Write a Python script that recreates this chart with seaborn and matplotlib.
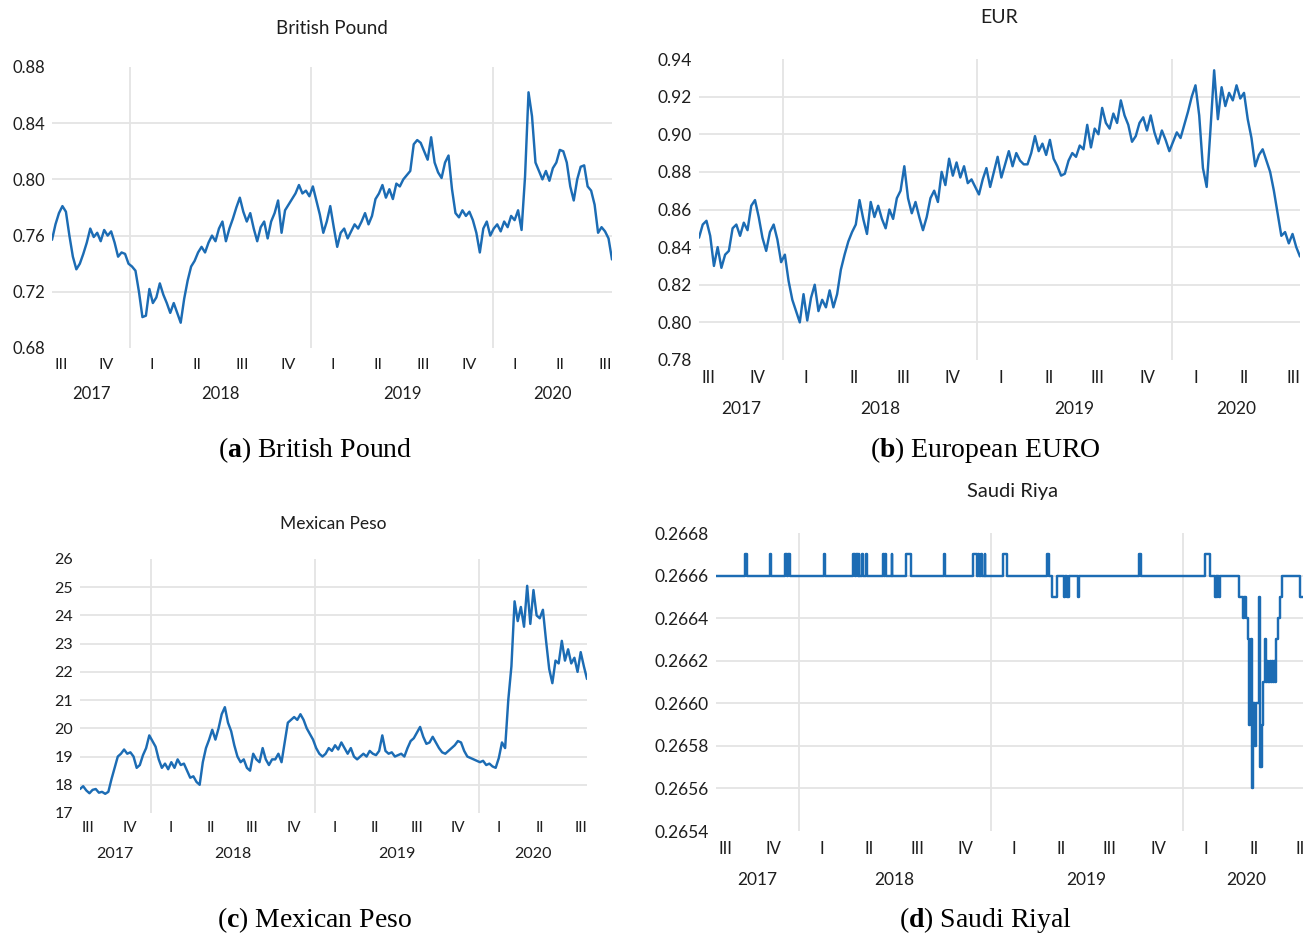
import pandas as pd
import matplotlib
matplotlib.use("Agg")
import matplotlib.pyplot as plt
import matplotlib.transforms as mtransforms
import seaborn as sns

# weekly rates per USD (Jul 2017 - Aug 2020)
gbp = [0.757, 0.768, 0.776, 0.781, 0.777, 0.760, 0.745, 0.736, 0.740, 0.747,
       0.755, 0.765, 0.759, 0.762, 0.756, 0.764, 0.760, 0.763, 0.755, 0.745, 0.748, 0.747, 0.740,
       0.738, 0.735, 0.720, 0.702, 0.703, 0.722, 0.712, 0.716, 0.726, 0.718, 0.712, 0.705, 0.712,
       0.705, 0.698, 0.715, 0.728, 0.738, 0.742, 0.748, 0.752, 0.748, 0.755, 0.760, 0.756, 0.765,
       0.770, 0.756, 0.765, 0.772, 0.780, 0.787, 0.777, 0.770, 0.776, 0.765, 0.756, 0.766, 0.770,
       0.758, 0.770, 0.776, 0.785, 0.762, 0.778, 0.782, 0.786, 0.790, 0.796, 0.790, 0.792, 0.788,
       0.795, 0.785, 0.775, 0.762, 0.770, 0.781, 0.766, 0.752, 0.762, 0.765, 0.758, 0.763, 0.768,
       0.765, 0.770, 0.776, 0.768, 0.774, 0.786, 0.790, 0.796, 0.787, 0.793, 0.786, 0.797, 0.795,
       0.800, 0.803, 0.806, 0.825, 0.828, 0.826, 0.820, 0.814, 0.830, 0.812, 0.805, 0.801, 0.812,
       0.817, 0.793, 0.776, 0.773, 0.778, 0.774, 0.777, 0.771, 0.762, 0.748, 0.765, 0.770, 0.760,
       0.765, 0.768, 0.763, 0.770, 0.766, 0.774, 0.771, 0.778, 0.764, 0.802, 0.862, 0.845, 0.812,
       0.806, 0.800, 0.806, 0.799, 0.808, 0.812, 0.821, 0.820, 0.812, 0.795, 0.785, 0.800, 0.809,
       0.810, 0.795, 0.792, 0.782, 0.762, 0.766, 0.763, 0.758, 0.743]

eur = [0.845, 0.852, 0.854, 0.846, 0.830, 0.840, 0.829, 0.836, 0.838, 0.850,
       0.852, 0.846, 0.853, 0.849, 0.862, 0.865, 0.856, 0.845, 0.838, 0.848, 0.852, 0.844, 0.832,
       0.836, 0.822, 0.812, 0.806, 0.800, 0.815, 0.801, 0.813, 0.820, 0.806, 0.812, 0.808, 0.817,
       0.808, 0.815, 0.828, 0.836, 0.843, 0.848, 0.852, 0.865, 0.855, 0.847, 0.864, 0.856, 0.862,
       0.855, 0.850, 0.860, 0.855, 0.866, 0.870, 0.883, 0.866, 0.858, 0.864, 0.856, 0.849, 0.856,
       0.866, 0.870, 0.864, 0.880, 0.873, 0.887, 0.878, 0.885, 0.877, 0.883, 0.874, 0.876, 0.872,
       0.868, 0.876, 0.882, 0.872, 0.880, 0.888, 0.877, 0.884, 0.891, 0.883, 0.890, 0.886, 0.884,
       0.884, 0.890, 0.899, 0.891, 0.895, 0.889, 0.897, 0.887, 0.883, 0.878, 0.879, 0.886, 0.890,
       0.888, 0.894, 0.892, 0.905, 0.893, 0.903, 0.900, 0.914, 0.906, 0.903, 0.911, 0.906, 0.918,
       0.910, 0.905, 0.896, 0.899, 0.906, 0.909, 0.902, 0.910, 0.901, 0.895, 0.902, 0.897, 0.891,
       0.896, 0.901, 0.898, 0.905, 0.912, 0.920, 0.926, 0.910, 0.882, 0.872, 0.902, 0.934, 0.908,
       0.925, 0.915, 0.922, 0.918, 0.926, 0.919, 0.922, 0.908, 0.898, 0.883, 0.889, 0.892, 0.886,
       0.880, 0.870, 0.858, 0.846, 0.848, 0.842, 0.847, 0.840, 0.835]

mxn = [17.85, 17.95, 17.80, 17.70, 17.82, 17.85, 17.72, 17.75, 17.68, 17.75,
       18.2, 18.6, 19.0, 19.1, 19.25, 19.1, 19.15, 19.0, 18.6, 18.7, 19.05, 19.3, 19.75,
       19.55, 19.35, 18.9, 18.6, 18.75, 18.55, 18.8, 18.6, 18.9, 18.7, 18.75, 18.5, 18.25,
       18.3, 18.1, 18.0, 18.8, 19.3, 19.6, 19.95, 19.6, 20.0, 20.5, 20.75, 20.2, 19.9,
       19.4, 19.0, 18.8, 18.9, 18.6, 18.5, 19.1, 18.9, 18.8, 19.3, 18.9, 18.7, 18.9,
       18.9, 19.1, 18.8, 19.5, 20.2, 20.3, 20.4, 20.3, 20.5, 20.3, 20.0, 19.8, 19.6,
       19.3, 19.1, 19.0, 19.1, 19.3, 19.2, 19.4, 19.25, 19.5, 19.3, 19.1, 19.3, 19.0,
       18.9, 19.0, 19.1, 19.0, 19.2, 19.1, 19.05, 19.2, 19.75, 19.2, 19.1, 19.15, 19.0,
       19.05, 19.1, 19.0, 19.3, 19.55, 19.65, 19.85, 20.05, 19.7, 19.45, 19.5, 19.7, 19.5,
       19.3, 19.15, 19.1, 19.2, 19.3, 19.4, 19.55, 19.5, 19.2, 19.0, 18.95, 18.9, 18.85,
       18.8, 18.85, 18.7, 18.75, 18.65, 18.6, 18.95, 19.5, 19.3, 21.0, 22.2, 24.5, 23.8,
       24.3, 23.6, 25.05, 23.7, 24.9, 24.0, 23.9, 24.2, 23.1, 22.1, 21.6, 22.4, 22.3,
       23.1, 22.4, 22.8, 22.3, 22.5, 22.0, 22.7, 22.2, 21.75]

# Saudi riyal is pegged: keep only the days where the rate changes (step series)
sar_dates = ["2017-07-28", "2017-09-22", "2017-09-25", "2017-11-07", "2017-11-09",
             "2017-12-06", "2017-12-10", "2017-12-11", "2017-12-15", "2018-02-18", "2018-02-20",
             "2018-04-14", "2018-04-19", "2018-04-20", "2018-04-23", "2018-04-25", "2018-04-26",
             "2018-05-02", "2018-05-04", "2018-05-10", "2018-05-11", "2018-06-11", "2018-06-13",
             "2018-06-14", "2018-06-16", "2018-06-27", "2018-06-28", "2018-07-25", "2018-08-02",
             "2018-10-05", "2018-10-06", "2018-11-29", "2018-12-06", "2018-12-07", "2018-12-10",
             "2018-12-14", "2018-12-15", "2018-12-21", "2018-12-22", "2019-01-25", "2019-02-01",
             "2019-04-18", "2019-04-22", "2019-04-28", "2019-05-07", "2019-05-20", "2019-05-22",
             "2019-05-27", "2019-05-29", "2019-06-16", "2019-06-18", "2019-10-10", "2019-10-14",
             "2020-02-12", "2020-02-22", "2020-03-03", "2020-03-05", "2020-03-06", "2020-03-07",
             "2020-03-10", "2020-03-12", "2020-04-17", "2020-04-25", "2020-04-27", "2020-04-30",
             "2020-05-05", "2020-05-06", "2020-05-08", "2020-05-10", "2020-05-12", "2020-05-14",
             "2020-05-17", "2020-05-19", "2020-05-25", "2020-05-27", "2020-05-30", "2020-06-02",
             "2020-06-05", "2020-06-07", "2020-06-10", "2020-06-12", "2020-06-14", "2020-06-16",
             "2020-06-18", "2020-06-20", "2020-06-22", "2020-06-24", "2020-06-27", "2020-06-30",
             "2020-07-03", "2020-07-08", "2020-08-11", "2020-08-28"]
sar_values = [0.2666, 0.2667, 0.2666, 0.2667, 0.2666,
              0.2667, 0.2666, 0.2667, 0.2666, 0.2667, 0.2666,
              0.2667, 0.2666, 0.2667, 0.2666, 0.2667, 0.2666,
              0.2667, 0.2666, 0.2667, 0.2666, 0.2667, 0.2666,
              0.2667, 0.2666, 0.2667, 0.2666, 0.2667, 0.2666,
              0.2667, 0.2666, 0.2667, 0.2666, 0.2667, 0.2666,
              0.2667, 0.2666, 0.2667, 0.2666, 0.2667, 0.2666,
              0.2667, 0.2666, 0.2665, 0.2666, 0.2665, 0.2666,
              0.2665, 0.2666, 0.2665, 0.2666, 0.2667, 0.2666,
              0.2667, 0.2666, 0.2665, 0.2666, 0.2665, 0.2666,
              0.2665, 0.2666, 0.2665, 0.2664, 0.2665, 0.2664,
              0.2663, 0.2659, 0.2662, 0.2663, 0.2656, 0.2660,
              0.2658, 0.2660, 0.2665, 0.2657, 0.2659, 0.2661,
              0.2663, 0.2661, 0.2662, 0.2661, 0.2662, 0.2661,
              0.2662, 0.2661, 0.2662, 0.2661, 0.2663, 0.2664,
              0.2665, 0.2666, 0.2665, 0.2665]

quarter_labels = ["III", "IV", "I", "II", "III", "IV", "I", "II", "III", "IV", "I", "II", "III"]
quarter_mids = ["2017-08-15", "2017-11-15", "2018-02-14", "2018-05-15", "2018-08-15",
                "2018-11-15", "2019-02-14", "2019-05-15", "2019-08-15", "2019-11-15",
                "2020-02-14", "2020-05-15", "2020-08-15"]
year_labels = ["2017", "2018", "2019", "2020"]

weeks = pd.date_range("2017-07-28", periods=len(gbp), freq="7D")

sns.set_style("white")
plt.rcParams["font.family"] = ["Lato", "DejaVu Sans"]
plt.rcParams["mathtext.fontset"] = "custom"
plt.rcParams["mathtext.rm"] = "Liberation Serif"
plt.rcParams["mathtext.bf"] = "Liberation Serif:bold"

LINE = "#1c6cb4"
GRID = "#e4e4e4"
TXT = "#1e1e1e"

fig = plt.figure(figsize=(13.03, 9.35), dpi=100)


def panel(rect, x, y, title, yticks, fmt, fs, tfs, steps=False):
    ax = fig.add_axes(rect)
    kw = {"drawstyle": "steps-post"} if steps else {}
    sns.lineplot(x=x, y=y, ax=ax, color=LINE, linewidth=1.75, zorder=3, **kw)
    ax.set_xlim(weeks[0], weeks[-1])
    ax.set_ylim(yticks[0], yticks[-1])
    ax.set_yticks(yticks)
    ax.set_yticklabels([fmt.format(v) for v in yticks], fontsize=fs, color=TXT)
    ax.tick_params(axis="y", length=0, pad=5)
    ax.set_xticks([])
    ax.set_xlabel("")
    ax.set_ylabel("")
    for v in yticks[1:-1]:
        ax.axhline(v, color=GRID, lw=1.3, zorder=1)
    for yr in year_labels[1:]:
        ax.axvline(pd.Timestamp(yr + "-01-01"), color=GRID, lw=1.3, zorder=1)
    for s in ax.spines.values():
        s.set_visible(False)
    ax.patch.set_alpha(0)

    trans = mtransforms.blended_transform_factory(ax.transData, ax.transAxes)
    for q, lab in zip(quarter_mids, quarter_labels):
        ax.text(pd.Timestamp(q), -0.06, lab, transform=trans, ha="center", va="center",
                fontsize=fs - 0.5, color=TXT, clip_on=False)
    lo, hi = weeks[0], weeks[-1]
    edges = [lo] + [pd.Timestamp(yr + "-01-01") for yr in year_labels[1:]] + [hi]
    for i, yr in enumerate(year_labels):
        mid = edges[i] + (edges[i + 1] - edges[i]) / 2
        ax.text(mid, -0.163, yr, transform=trans, ha="center", va="center",
                fontsize=fs, color=TXT)
    ax.text(0.5, 1.138, title, transform=ax.transAxes, ha="center", va="center",
            fontsize=tfs, color=TXT)
    return ax


W, H = 1303.0, 935.0


def rect(x0, x1, ytop, ybot):
    return [x0 / W, 1 - ybot / H, (x1 - x0) / W, (ybot - ytop) / H]


panel(rect(52, 612, 67, 348), weeks, gbp, "British Pound",
      [0.68, 0.72, 0.76, 0.80, 0.84, 0.88], "{:.2f}", 12, 13.5)
panel(rect(699, 1300, 59, 360), weeks, eur, "EUR",
      [0.78, 0.80, 0.82, 0.84, 0.86, 0.88, 0.90, 0.92, 0.94], "{:.2f}", 12.5, 14)
panel(rect(80, 587, 559, 813), weeks, mxn, "Mexican Peso",
      list(range(17, 27)), "{:d}", 11.5, 12.5)
panel(rect(716, 1309, 533, 831), pd.to_datetime(sar_dates), sar_values, "Saudi Riya",
      [0.2654, 0.2656, 0.2658, 0.2660, 0.2662, 0.2664, 0.2666, 0.2668], "{:.4f}", 12.5, 14.5,
      steps=True)

captions = [(315, 450, r"($\mathbf{a}$) British Pound"),
            (985, 450, r"($\mathbf{b}$) European EURO"),
            (315, 920, r"($\mathbf{c}$) Mexican Peso"),
            (985, 920, r"($\mathbf{d}$) Saudi Riyal")]
for cx, cy, txt in captions:
    fig.text(cx / W, 1 - cy / H, txt, ha="center", va="center", fontsize=20,
             family="Liberation Serif", color="black")

fig.savefig("out.png", dpi=100)
